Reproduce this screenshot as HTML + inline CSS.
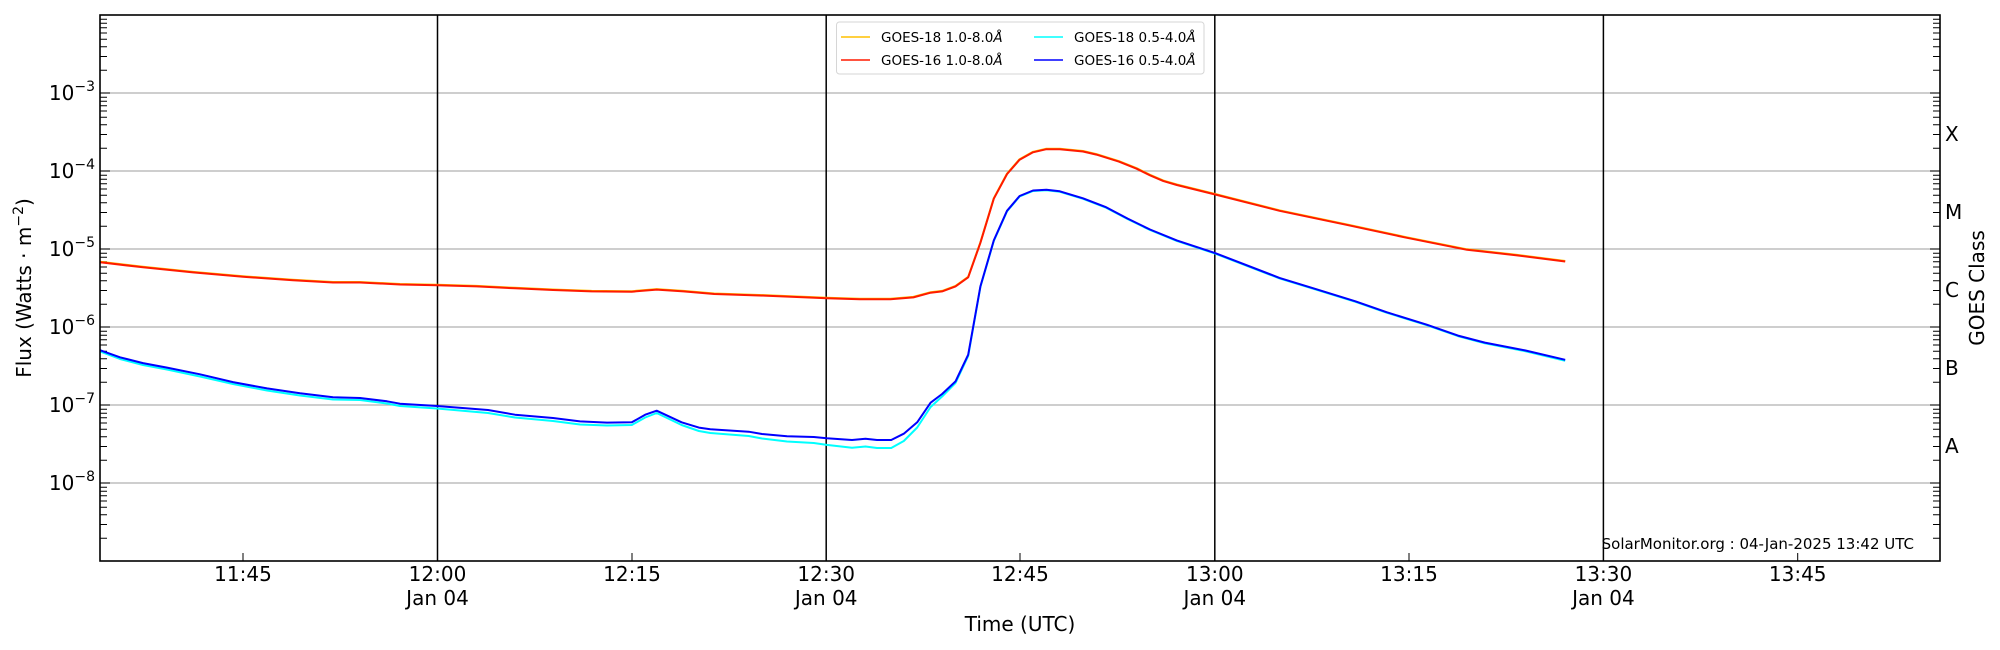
<!DOCTYPE html>
<html><head><meta charset="utf-8"><style>
html,body{margin:0;padding:0;background:#fff;}
svg{display:block;font-family:"DejaVu Sans","Liberation Sans",sans-serif;}
</style></head><body>
<svg width="2000" height="650" viewBox="0 0 2000 650" xmlns="http://www.w3.org/2000/svg">
<rect width="2000" height="650" fill="#fff"/>
<g stroke="#b0b0b0" stroke-width="1.3">
<line x1="100" x2="1940" y1="93" y2="93"/>
<line x1="100" x2="1940" y1="171" y2="171"/>
<line x1="100" x2="1940" y1="249" y2="249"/>
<line x1="100" x2="1940" y1="327" y2="327"/>
<line x1="100" x2="1940" y1="405" y2="405"/>
<line x1="100" x2="1940" y1="483" y2="483"/>
</g>
<g stroke="#000" stroke-width="1.5">
<line x1="437.5" x2="437.5" y1="15" y2="561"/>
<line x1="826.2" x2="826.2" y1="15" y2="561"/>
<line x1="1214.8" x2="1214.8" y1="15" y2="561"/>
<line x1="1603.4" x2="1603.4" y1="15" y2="561"/>
</g>
<g stroke="#000" stroke-width="1">
<path d="
M100 93h10M100 171h10M100 249h10M100 327h10M100 405h10M100 483h10
M1940 93h-10M1940 171h-10M1940 249h-10M1940 327h-10M1940 405h-10M1940 483h-10
M243 561v-8M632 561v-8M1020 561v-8M1409 561v-8M1797.7 561v-8
"/>
</g>
<path stroke="#000" stroke-width="1" d="
M100 538.2h7M100 524.5h7M100 514.7h7M100 507.2h7M100 501h7M100 495.8h7M100 491.3h7M100 487.3h7
M100 460.2h7M100 446.5h7M100 436.7h7M100 429.2h7M100 423h7M100 417.8h7M100 413.3h7M100 409.3h7
M100 382.2h7M100 368.5h7M100 358.7h7M100 351.2h7M100 345h7M100 339.8h7M100 335.3h7M100 331.3h7
M100 304.2h7M100 290.5h7M100 280.7h7M100 273.2h7M100 267h7M100 261.8h7M100 257.3h7M100 253.3h7
M100 226.2h7M100 212.5h7M100 202.7h7M100 195.2h7M100 189h7M100 183.8h7M100 179.3h7M100 175.3h7
M100 148.2h7M100 134.5h7M100 124.7h7M100 117.2h7M100 111h7M100 105.8h7M100 101.3h7M100 97.3h7
M100 70.2h7M100 56.5h7M100 46.7h7M100 39.2h7M100 33h7M100 27.8h7M100 23.3h7M100 19.3h7
M1940 538.2h-7M1940 524.5h-7M1940 514.7h-7M1940 507.2h-7M1940 501h-7M1940 495.8h-7M1940 491.3h-7M1940 487.3h-7
M1940 460.2h-7M1940 446.5h-7M1940 436.7h-7M1940 429.2h-7M1940 423h-7M1940 417.8h-7M1940 413.3h-7M1940 409.3h-7
M1940 382.2h-7M1940 368.5h-7M1940 358.7h-7M1940 351.2h-7M1940 345h-7M1940 339.8h-7M1940 335.3h-7M1940 331.3h-7
M1940 304.2h-7M1940 290.5h-7M1940 280.7h-7M1940 273.2h-7M1940 267h-7M1940 261.8h-7M1940 257.3h-7M1940 253.3h-7
M1940 226.2h-7M1940 212.5h-7M1940 202.7h-7M1940 195.2h-7M1940 189h-7M1940 183.8h-7M1940 179.3h-7M1940 175.3h-7
M1940 148.2h-7M1940 134.5h-7M1940 124.7h-7M1940 117.2h-7M1940 111h-7M1940 105.8h-7M1940 101.3h-7M1940 97.3h-7
M1940 70.2h-7M1940 56.5h-7M1940 46.7h-7M1940 39.2h-7M1940 33h-7M1940 27.8h-7M1940 23.3h-7M1940 19.3h-7
"/>
<g fill="none" stroke-width="2" stroke-linejoin="round">
<polyline stroke="#ffc000" points="100,261.8 143,266.8 193,271.9 243,276.3 293,279.7 333,282 360,282 400,284 437,284.8 476.6,285.9 515,287.8 553,289.5 591.6,290.9 631.8,291.2 656.7,289.1 683.5,290.9 714.2,293.5 764,295.1 826.8,297.8 859.8,298.8 890.4,298.8 913.4,296.9 930.6,292.2 942.1,290.9 955.5,285.9 968.2,276.8 980.4,242.3 993.8,198.2 1007,173.6 1019.6,159.2 1033,151.8 1046.4,148.7 1059.8,148.7 1083,151 1096.4,154.1 1118.8,161.1 1136.6,168.2 1150,174.8 1163.4,180.6 1176.8,184.5 1214.7,193.9 1279.5,210.3 1346.4,224.3 1404.5,236.8 1467,249.3 1516,254.7 1565.2,261"/>
<polyline stroke="#ff1a00" points="100,262.3 143,267.3 193,272.4 243,276.8 293,280.2 333,282.5 360,282.5 400,284.5 437,285.3 476.6,286.4 515,288.3 553,290 591.6,291.4 631.8,291.7 656.7,289.6 683.5,291.4 714.2,294 764,295.6 826.8,298.3 859.8,299.3 890.4,299.3 913.4,297.4 930.6,292.7 942.1,291.4 955.5,286.4 968.2,277.3 980.4,242.8 993.8,198.7 1007,174.1 1019.6,159.7 1033,152.3 1046.4,149.2 1059.8,149.2 1083,151.5 1096.4,154.6 1118.8,161.6 1136.6,168.7 1150,175.3 1163.4,181.1 1176.8,185 1214.7,194.4 1279.5,210.8 1346.4,224.8 1404.5,237.3 1467,249.8 1516,255.2 1565.2,261.5"/>
<polyline stroke="#00ffff" points="100,351.5 120,359 143,365 167,369.5 200,376.5 233,384 267,390.5 300,395.5 333,399.5 360,400 387,403.5 400,406 437,408.5 488,413 515,417.5 553,421 580,424.5 607,425.5 631.8,425 645.2,417.5 656.7,413 681.6,425 698.9,431 710.3,433 748.7,436 762,438.5 787,441.5 813.8,443 826.8,444.9 852,447.7 865.5,446.5 877,448 891.2,448 903.8,441 917.2,427.5 930.6,407 942.1,396.5 955.5,383 968.2,356 980.4,287 993.8,241 1007,211.3 1019.6,196.5 1033,191 1046.4,190.2 1059.8,191.8 1083,198.8 1105.4,207.4 1127.7,219.1 1150,230 1176.8,240.9 1214.7,253.4 1279.5,278.4 1315,289.3 1355.4,301.8 1386.6,312.7 1426.8,325.2 1458,336.1 1484.8,343.3 1525,351.2 1565.2,360.8"/>
<polyline stroke="#0000ff" points="100,350.2 120,357.3 143,363.1 167,367.6 200,374.3 233,382.1 267,388.4 300,393.3 333,397.2 360,398 387,401.3 400,403.7 437,406 488,410 515,414.7 553,418 580,421.4 607,422.6 631.8,422.3 645.2,414.7 656.7,410.7 681.6,422.3 698.9,427.6 710.3,429.3 748.7,431.7 762,434 787,436.2 813.8,437 826.8,438.3 852,440 865.5,438.7 877,440 891.2,440 903.8,433.7 917.2,422.3 930.6,402.7 942.1,394 955.5,381.4 968.2,354.7 980.4,286.4 993.8,240.4 1007,210.8 1019.6,196 1033,190.5 1046.4,189.7 1059.8,191.3 1083,198.3 1105.4,206.9 1127.7,218.6 1150,229.5 1176.8,240.4 1214.7,252.9 1279.5,277.9 1315,288.8 1355.4,301.3 1386.6,312.2 1426.8,324.7 1458,335.6 1484.8,342.6 1525,350.4 1565.2,359.8"/>
</g>
<rect x="100" y="15" width="1840" height="546" fill="none" stroke="#000" stroke-width="1.6"/>
<rect x="836.5" y="22" width="367.5" height="52" rx="3" fill="#fff" fill-opacity="0.85" stroke="#d6d6d6" stroke-width="1"/>
<g stroke-width="1.5">
<line x1="841" x2="870" y1="37" y2="37" stroke="#ffc000"/>
<line x1="841" x2="870" y1="60" y2="60" stroke="#ff1a00"/>
<line x1="1034" x2="1063" y1="37" y2="37" stroke="#00ffff"/>
<line x1="1034" x2="1063" y1="60" y2="60" stroke="#0000ff"/>
</g>
<g font-size="13.5" fill="#000">
<text x="881" y="42">GOES-18 1.0-8.0<tspan font-style="italic">Å</tspan></text>
<text x="881" y="65">GOES-16 1.0-8.0<tspan font-style="italic">Å</tspan></text>
<text x="1074" y="42">GOES-18 0.5-4.0<tspan font-style="italic">Å</tspan></text>
<text x="1074" y="65">GOES-16 0.5-4.0<tspan font-style="italic">Å</tspan></text>
</g>
<g font-size="20" fill="#000" text-anchor="end">
<text x="95" y="100">10<tspan font-size="14" dy="-9">−3</tspan></text>
<text x="95" y="178">10<tspan font-size="14" dy="-9">−4</tspan></text>
<text x="95" y="256">10<tspan font-size="14" dy="-9">−5</tspan></text>
<text x="95" y="334">10<tspan font-size="14" dy="-9">−6</tspan></text>
<text x="95" y="412">10<tspan font-size="14" dy="-9">−7</tspan></text>
<text x="95" y="490">10<tspan font-size="14" dy="-9">−8</tspan></text>
</g>
<g font-size="20" fill="#000">
<text x="1945" y="141">X</text>
<text x="1945" y="219">M</text>
<text x="1945" y="297">C</text>
<text x="1945" y="375">B</text>
<text x="1945" y="453">A</text>
</g>
<text transform="translate(1984,288) rotate(-90)" font-size="20" text-anchor="middle">GOES Class</text>
<text transform="translate(31,288) rotate(-90)" font-size="20" text-anchor="middle">Flux (Watts · m<tspan font-size="14" dy="-8">−2</tspan><tspan dy="8">)</tspan></text>
<g font-size="20" fill="#000" text-anchor="middle">
<text x="243" y="581">11:45</text>
<text x="437.5" y="581">12:00</text>
<text x="437.5" y="605">Jan 04</text>
<text x="632" y="581">12:15</text>
<text x="826.2" y="581">12:30</text>
<text x="826.2" y="605">Jan 04</text>
<text x="1020" y="581">12:45</text>
<text x="1214.8" y="581">13:00</text>
<text x="1214.8" y="605">Jan 04</text>
<text x="1409" y="581">13:15</text>
<text x="1603.4" y="581">13:30</text>
<text x="1603.4" y="605">Jan 04</text>
<text x="1797.7" y="581">13:45</text>
<text x="1020" y="631">Time (UTC)</text>
</g>
<text x="1914" y="549" font-size="15" text-anchor="end">SolarMonitor.org : 04-Jan-2025 13:42 UTC</text>
</svg>
</body></html>
